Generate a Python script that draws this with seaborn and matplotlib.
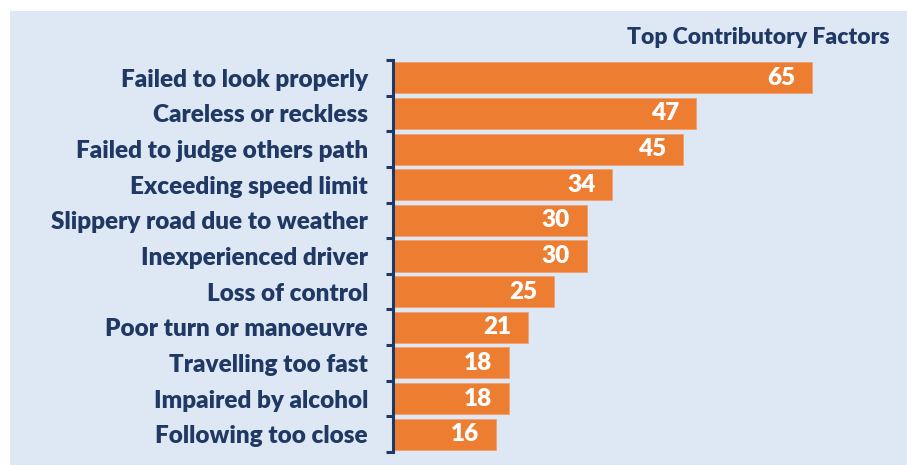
import numpy as np
import pandas as pd
import matplotlib
matplotlib.use('Agg')
import matplotlib.pyplot as plt
import seaborn as sns
from matplotlib.patches import Rectangle
from matplotlib.ticker import FixedLocator

# data
factors = ['Failed to look properly', 'Careless or reckless', 'Failed to judge others path',
           'Exceeding speed limit', 'Slippery road due to weather', 'Inexperienced driver',
           'Loss of control', 'Poor turn or manoeuvre', 'Travelling too fast',
           'Impaired by alcohol', 'Following too close']
counts = [65, 47, 45, 34, 30, 30, 25, 21, 18, 18, 16]
title = 'Top Contributory Factors'

navy = '#1F3864'
orange = '#ED7D31'
bg = '#DEE8F4'

sns.set_style('white')
plt.rcParams['font.family'] = ['Lato', 'DejaVu Sans']

df = pd.DataFrame({'factor': factors, 'count': counts})

fig = plt.figure(figsize=(9.07, 4.65), dpi=100)
fig.patches.append(Rectangle((10 / 907, 0), 1, 1 - 11 / 465, transform=fig.transFigure,
                             facecolor=bg, edgecolor='none', zorder=-10))

ax = fig.add_axes([393 / 907, 13 / 465, (907 - 393) / 907, (452 - 60) / 465])
ax.set_facecolor('none')

sns.barplot(data=df, x='count', y='factor', orient='h', color=orange, width=0.87,
            saturation=1, edgecolor='#F0A070', linewidth=0.6, ax=ax)

ax.set_xlim(0, (907 - 393) / 6.45)
ax.set_ylim(len(factors) - 0.5, -0.5)
ax.set_xlabel('')
ax.set_ylabel('')
ax.set_xticks([])

for s in ['top', 'right', 'bottom']:
    ax.spines[s].set_visible(False)
ax.spines['left'].set_color(navy)
ax.spines['left'].set_linewidth(2.2)

# labels at bar centres, tick marks at the boundaries
ax.tick_params(axis='y', which='major', left=True, length=0, pad=18, labelsize=17.5,
               labelcolor=navy)
for t in ax.get_yticklabels():
    t.set_fontweight('heavy')
ax.yaxis.set_minor_locator(FixedLocator(np.arange(-0.5, len(factors), 1)))
ax.tick_params(axis='y', which='minor', left=True, length=5, width=2.2, color=navy,
               direction='out')

for i, v in enumerate(counts):
    ax.text(v - 2.6, i, str(v), ha='right', va='center', color='white',
            fontsize=17.5, fontweight='heavy')

fig.text(890 / 907, 1 - 37 / 465, title, ha='right', va='center', color=navy,
         fontsize=16.5, fontweight='heavy')

fig.savefig('out.png', dpi=100)
